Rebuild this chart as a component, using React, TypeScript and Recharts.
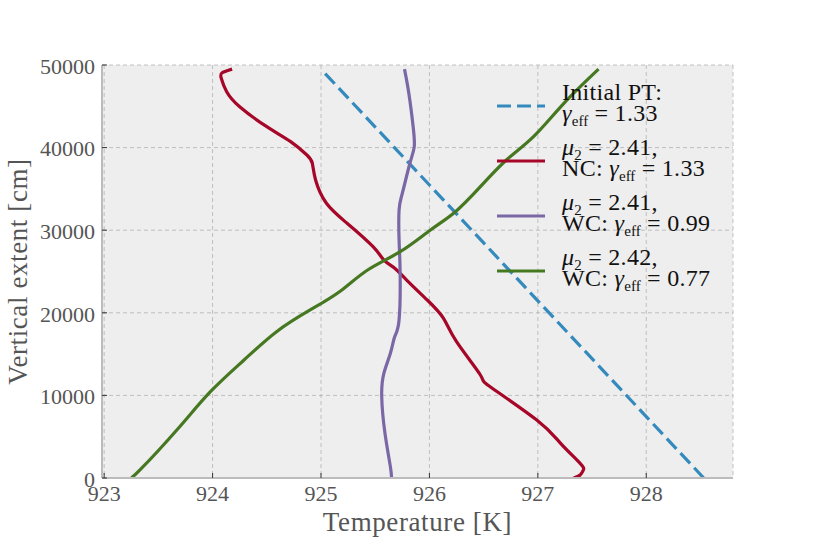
import React from 'react';
import { LineChart, Line, XAxis, YAxis, CartesianGrid } from 'recharts';

// axis ticks
const xTicks = [923, 924, 925, 926, 927, 928];
const yTicks = [0, 10000, 20000, 30000, 40000, 50000];

// initial PT profile (straight line)
const ptTemp = [928.53, 925.0];
const ptHeight = [0, 49500];

// mu2 = 2.41, NC
const ncTemp = [927.33, 927.39, 927.42, 927.39, 927.21, 926.99, 926.56, 926.47, 926.25, 926.13, 925.98, 925.79, 925.68, 925.58, 925.48, 925.24, 925.05, 924.95, 924.92, 924.87, 924.72, 924.5, 924.25, 924.13, 924.08, 924.09, 924.18];
const ncHeight = [0, 360, 970, 1780, 4200, 7020, 11050, 12470, 16500, 19330, 21550, 23970, 25390, 26390, 28000, 30840, 33260, 36080, 38100, 39100, 40720, 42530, 44950, 46770, 48390, 49070, 49500];

// mu2 = 2.41, WC
const wc1Temp = [925.65, 925.64, 925.59, 925.56, 925.58, 925.64, 925.68, 925.72, 925.73, 925.72, 925.72, 925.75, 925.82, 925.86, 925.85, 925.81, 925.77];
const wc1Height = [0, 1370, 5410, 9840, 12680, 15100, 17110, 19130, 24780, 28810, 32450, 34470, 38100, 40110, 42530, 46580, 49500];

// mu2 = 2.42, WC
const wc2Temp = [923.24, 923.33, 923.67, 923.98, 924.29, 924.59, 924.9, 925.18, 925.43, 925.73, 926.01, 926.24, 926.47, 926.71, 926.96, 927.24, 927.56];
const wc2Height = [0, 970, 5810, 10450, 14290, 17710, 20340, 22640, 25180, 27400, 30030, 32240, 35270, 38500, 41320, 45360, 49500];

const toPoints = (temp: number[], height: number[]) => temp.map((T, i) => ({ T, h: height[i] }));

const SERIF = '"Liberation Serif", "DejaVu Serif", serif';
const TICK_MARGIN = 6;

function XTick({ x, y, payload }: any) {
  return (
    <g>
      <line x1={x} x2={x} y1={y - TICK_MARGIN} y2={y - TICK_MARGIN - 5} stroke="#333" strokeWidth={1} />
      <text x={x} y={y} dy="0.75em" textAnchor="middle" fill="#555" fontSize={22} fontFamily={SERIF}>
        {payload.value}
      </text>
    </g>
  );
}

function YTick({ x, y, payload }: any) {
  return (
    <g>
      <line x1={x + 7} x2={x + 12} y1={y} y2={y} stroke="#333" strokeWidth={1} />
      <text x={x} y={y} dy="0.4em" textAnchor="end" fill="#555" fontSize={22} fontFamily={SERIF}>
        {payload.value}
      </text>
    </g>
  );
}

const subStyle: React.CSSProperties = { fontSize: 15, position: 'relative', top: 5, lineHeight: 0, letterSpacing: 0 };

function Gamma({ v }: { v: string }) {
  return (
    <>
      <i>γ</i>
      <span style={subStyle}>eff</span> = {v}
    </>
  );
}

function Mu({ v }: { v: string }) {
  return (
    <>
      <i>μ</i>
      <span style={subStyle}>2</span> = {v},
    </>
  );
}

const legendItems = [
  { color: '#348ABD', dash: '14 6', l1: <>Initial PT:</>, l2: <Gamma v="1.33" /> },
  { color: '#A60628', dash: undefined, l1: <Mu v="2.41" />, l2: <>NC: <Gamma v="1.33" /></> },
  { color: '#7A68A6', dash: undefined, l1: <Mu v="2.41" />, l2: <>WC: <Gamma v="0.99" /></> },
  { color: '#467821', dash: undefined, l1: <Mu v="2.42" />, l2: <>WC: <Gamma v="0.77" /></> },
];

export default function App() {
  return (
    <div style={{ position: 'absolute', left: 0, top: 0, width: 814, height: 543, background: '#fff' }}>
      <LineChart width={814} height={543} margin={{ top: 65, right: 81, bottom: 0, left: 8 }}>
        <CartesianGrid fill="#eeeeee" stroke="#b2b2b2" strokeDasharray="4 3" strokeWidth={0.8} />
        <XAxis
          type="number"
          dataKey="T"
          domain={[922.98, 928.8]}
          ticks={xTicks}
          allowDataOverflow
          height={65}
          tickSize={0}
          tickMargin={TICK_MARGIN}
          tickLine={false}
          axisLine={{ stroke: '#bcbcbc', strokeWidth: 2 }}
          tick={<XTick />}
          label={{ value: 'Temperature [K]', position: 'insideBottom', offset: 12, fill: '#555', fontSize: 27, fontFamily: SERIF, letterSpacing: 0.6 }}
        />
        <XAxis xAxisId="top" orientation="top" type="number" domain={[0, 1]} height={0} tick={false} tickLine={false} axisLine={{ stroke: '#bcbcbc', strokeWidth: 2 }} />
        <YAxis
          type="number"
          domain={[0, 50000]}
          ticks={yTicks}
          allowDataOverflow
          width={94}
          tickSize={0}
          tickMargin={7}
          tickLine={false}
          axisLine={{ stroke: '#bcbcbc', strokeWidth: 2 }}
          tick={<YTick />}
          label={{ value: 'Vertical extent [cm]', angle: -90, position: 'insideLeft', offset: 9, fill: '#555', fontSize: 27, fontFamily: SERIF, letterSpacing: 0.6, style: { textAnchor: 'middle' } }}
        />
        <YAxis yAxisId="right" orientation="right" type="number" domain={[0, 1]} width={0} tick={false} tickLine={false} axisLine={{ stroke: '#bcbcbc', strokeWidth: 2 }} />
        <Line data={toPoints(ptTemp, ptHeight)} dataKey="h" type="linear" stroke="#348ABD" strokeWidth={3.2} strokeDasharray="14 6" dot={false} isAnimationActive={false} />
        <Line data={toPoints(ncTemp, ncHeight)} dataKey="h" type="natural" stroke="#A60628" strokeWidth={3.2} dot={false} isAnimationActive={false} />
        <Line data={toPoints(wc1Temp, wc1Height)} dataKey="h" type="natural" stroke="#7A68A6" strokeWidth={3.2} dot={false} isAnimationActive={false} />
        <Line data={toPoints(wc2Temp, wc2Height)} dataKey="h" type="natural" stroke="#467821" strokeWidth={3.2} dot={false} isAnimationActive={false} />
      </LineChart>
      <div style={{ position: 'absolute', left: 497, top: 82, fontFamily: SERIF, fontSize: 24, lineHeight: '21px', letterSpacing: 0.3, color: '#111' }}>
        {legendItems.map((it, i) => (
          <div key={i} style={{ display: 'flex', alignItems: 'center', height: 42, marginBottom: 13 }}>
            <svg width={48} height={42} style={{ flex: 'none' }}>
              <line x1={0} x2={48} y1={24} y2={24} stroke={it.color} strokeWidth={3.2} strokeDasharray={it.dash} />
            </svg>
            <div style={{ marginLeft: 17, whiteSpace: 'nowrap' }}>
              <div style={{ height: 21 }}>{it.l1}</div>
              <div style={{ height: 21 }}>{it.l2}</div>
            </div>
          </div>
        ))}
      </div>
    </div>
  );
}
